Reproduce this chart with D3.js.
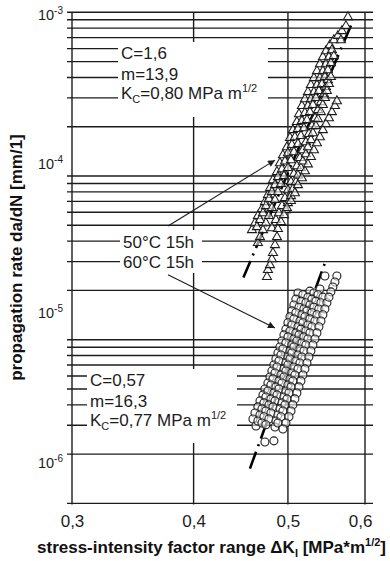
<!DOCTYPE html>
<html>
<head>
<meta charset="utf-8">
<script src="https://cdn.jsdelivr.net/npm/d3@7"></script>
<style>
  body { margin: 0; background: #fff; }
  svg { display: block; font-family: "Liberation Sans", Arial, sans-serif; }
</style>
</head>
<body>
<div class="canvas"></div>
<script>

// da/dN [mm/1] against dK_I [MPa m^1/2], one array per specimen streak
// 50°C 15h  (triangles)
var t50_1 = [[0.4592,4.68e-5],[0.4625,5.16e-5],[0.4657,5.70e-5],[0.4702,6.29e-5],[0.4735,6.94e-5],[0.4769,7.66e-5],[0.4792,8.45e-5],[0.4826,9.45e-5],[0.4872,1.06e-4],[0.4906,1.20e-4],[0.4941,1.34e-4],[0.4988,1.50e-4],[0.5024,1.71e-4],[0.5059,1.91e-4],[0.5107,2.14e-4],[0.5132,2.39e-4],[0.5168,2.68e-4],[0.5205,2.95e-4],[0.5242,3.26e-4],[0.5279,3.60e-4],[0.5317,3.97e-4],[0.5355,4.38e-4],[0.5393,4.83e-4],[0.5431,5.33e-4],[0.5470,5.80e-4],[0.5522,6.31e-4],[0.5574,6.77e-4],[0.5627,7.17e-4],[0.5681,7.69e-4],[0.5735,8.25e-4]]
var t50_2 = [[0.4646,4.88e-5],[0.4680,5.39e-5],[0.4713,5.94e-5],[0.4746,6.56e-5],[0.4780,7.24e-5],[0.4814,7.99e-5],[0.4849,8.81e-5],[0.4883,9.86e-5],[0.4930,1.10e-4],[0.4965,1.23e-4],[0.5000,1.38e-4],[0.5047,1.55e-4],[0.5083,1.73e-4],[0.5120,1.94e-4],[0.5168,2.17e-4],[0.5205,2.43e-4],[0.5242,2.68e-4],[0.5279,2.95e-4],[0.5317,3.26e-4],[0.5355,3.60e-4],[0.5393,3.97e-4],[0.5431,4.38e-4],[0.5470,4.83e-4],[0.5509,5.33e-4],[0.5548,5.88e-4]]
var t50_3 = [[0.4657,3.90e-5],[0.4680,4.24e-5],[0.4713,4.68e-5],[0.4746,5.16e-5],[0.4780,5.70e-5],[0.4814,6.38e-5],[0.4849,7.14e-5],[0.4883,7.99e-5],[0.4918,8.94e-5],[0.4953,1.00e-4],[0.5000,1.12e-4],[0.5036,1.25e-4],[0.5071,1.40e-4],[0.5120,1.57e-4],[0.5156,1.76e-4],[0.5193,1.96e-4],[0.5230,2.20e-4],[0.5267,2.46e-4],[0.5304,2.72e-4],[0.5342,3.00e-4],[0.5380,3.31e-4],[0.5419,3.65e-4],[0.5457,4.03e-4],[0.5496,4.44e-4],[0.5535,4.90e-4],[0.5574,5.41e-4],[0.5668,6.77e-4],[0.5762,9.36e-4]]
var t50_4 = [[0.4814,4.81e-5],[0.4860,5.39e-5],[0.4895,5.94e-5],[0.4930,6.56e-5],[0.4965,7.34e-5],[0.5000,8.21e-5],[0.5036,9.19e-5],[0.5071,1.03e-4],[0.5107,1.15e-4],[0.5144,1.29e-4],[0.5180,1.44e-4],[0.5217,1.61e-4],[0.5254,1.81e-4],[0.5292,2.02e-4],[0.5330,2.26e-4],[0.5368,2.53e-4],[0.5406,2.83e-4],[0.5444,3.17e-4],[0.5470,3.50e-4],[0.5496,3.86e-4]]
var t50_5 = [[0.4976,6.20e-5],[0.5000,6.84e-5],[0.5036,7.55e-5],[0.5059,8.33e-5],[0.5095,9.19e-5],[0.5120,1.01e-4],[0.5156,1.12e-4],[0.5180,1.23e-4],[0.5217,1.36e-4],[0.5242,1.50e-4],[0.5279,1.66e-4],[0.5304,1.83e-4],[0.5342,2.02e-4],[0.5368,2.23e-4],[0.5406,2.46e-4],[0.5431,2.72e-4],[0.5457,3.00e-4],[0.5483,3.31e-4],[0.5509,3.65e-4],[0.5535,4.03e-4]]
var t50_6 = [[0.4758,2.42e-5],[0.4769,2.67e-5],[0.4792,2.86e-5],[0.4814,3.11e-5],[0.4826,3.39e-5],[0.4849,3.79e-5],[0.4872,4.24e-5],[0.4883,4.75e-5],[0.4918,5.24e-5],[0.4953,5.78e-5],[0.4988,6.38e-5],[0.5036,7.04e-5],[0.5083,7.87e-5],[0.5120,8.81e-5],[0.5168,9.72e-5],[0.5205,1.07e-4],[0.5242,1.18e-4],[0.5279,1.31e-4],[0.5317,1.44e-4],[0.5355,1.59e-4],[0.5393,1.73e-4],[0.5431,1.91e-4],[0.5470,2.08e-4],[0.5509,2.26e-4],[0.5548,2.46e-4],[0.5588,2.68e-4],[0.5614,2.87e-4]]

// 60°C 15h  (circles)
var c60_1 = [[0.5120,1.93e-5],[0.5095,1.77e-5],[0.5071,1.63e-5],[0.5047,1.50e-5],[0.5024,1.38e-5],[0.5000,1.27e-5],[0.4976,1.16e-5],[0.4953,1.07e-5],[0.4930,9.82e-6],[0.4906,9.03e-6],[0.4883,8.30e-6],[0.4860,7.63e-6],[0.4837,7.01e-6],[0.4814,6.44e-6],[0.4792,5.92e-6],[0.4769,5.44e-6],[0.4735,5.00e-6],[0.4713,4.60e-6],[0.4680,4.23e-6],[0.4657,3.89e-6],[0.4625,3.57e-6],[0.4603,3.28e-6],[0.4636,2.97e-6]]
var c60_2 = [[0.5180,1.88e-5],[0.5156,1.72e-5],[0.5132,1.58e-5],[0.5095,1.46e-5],[0.5071,1.34e-5],[0.5047,1.23e-5],[0.5024,1.13e-5],[0.5000,1.04e-5],[0.4976,9.55e-6],[0.4941,8.78e-6],[0.4918,8.07e-6],[0.4895,7.41e-6],[0.4872,6.81e-6],[0.4849,6.26e-6],[0.4826,5.76e-6],[0.4803,5.29e-6],[0.4769,4.86e-6],[0.4746,4.47e-6],[0.4724,4.11e-6],[0.4702,3.78e-6],[0.4680,3.47e-6],[0.4657,3.19e-6]]
var c60_3 = [[0.5267,1.98e-5],[0.5242,1.82e-5],[0.5217,1.68e-5],[0.5193,1.54e-5],[0.5168,1.42e-5],[0.5144,1.30e-5],[0.5120,1.20e-5],[0.5095,1.10e-5],[0.5071,1.01e-5],[0.5047,9.28e-6],[0.5024,8.53e-6],[0.5000,7.84e-6],[0.4976,7.21e-6],[0.4953,6.63e-6],[0.4918,6.09e-6],[0.4895,5.60e-6],[0.4860,5.15e-6],[0.4837,4.73e-6],[0.4803,4.35e-6],[0.4780,4.00e-6],[0.4746,3.67e-6],[0.4724,3.38e-6],[0.4702,3.10e-6]]
var c60_4 = [[0.5317,1.93e-5],[0.5292,1.77e-5],[0.5267,1.63e-5],[0.5230,1.50e-5],[0.5205,1.38e-5],[0.5180,1.27e-5],[0.5156,1.16e-5],[0.5132,1.07e-5],[0.5107,9.82e-6],[0.5071,9.03e-6],[0.5047,8.30e-6],[0.5024,7.63e-6],[0.5000,7.01e-6],[0.4976,6.44e-6],[0.4953,5.92e-6],[0.4930,5.44e-6],[0.4895,5.00e-6],[0.4872,4.60e-6],[0.4849,4.23e-6],[0.4826,3.89e-6],[0.4803,3.57e-6],[0.4780,3.28e-6],[0.4746,3.02e-6]]
var c60_5 = [[0.5393,2.04e-5],[0.5368,1.88e-5],[0.5342,1.72e-5],[0.5317,1.58e-5],[0.5292,1.46e-5],[0.5267,1.34e-5],[0.5242,1.23e-5],[0.5217,1.13e-5],[0.5193,1.04e-5],[0.5168,9.55e-6],[0.5144,8.78e-6],[0.5120,8.07e-6],[0.5095,7.41e-6],[0.5071,6.81e-6],[0.5047,6.26e-6],[0.5024,5.76e-6],[0.5000,5.29e-6],[0.4976,4.86e-6],[0.4953,4.47e-6],[0.4930,4.11e-6],[0.4906,3.78e-6],[0.4883,3.47e-6],[0.4860,3.19e-6],[0.4849,2.93e-6]]
var c60_6 = [[0.5431,1.82e-5],[0.5406,1.68e-5],[0.5380,1.54e-5],[0.5355,1.42e-5],[0.5330,1.30e-5],[0.5292,1.20e-5],[0.5267,1.10e-5],[0.5242,1.01e-5],[0.5217,9.28e-6],[0.5193,8.53e-6],[0.5168,7.84e-6],[0.5144,7.21e-6],[0.5120,6.63e-6],[0.5083,6.09e-6],[0.5059,5.60e-6],[0.5036,5.15e-6],[0.5012,4.73e-6],[0.4988,4.35e-6],[0.4965,4.00e-6],[0.4941,3.67e-6],[0.4918,3.38e-6],[0.4883,3.10e-6]]
var c60_7 = [[0.5483,1.68e-5],[0.5457,1.54e-5],[0.5431,1.42e-5],[0.5406,1.30e-5],[0.5380,1.20e-5],[0.5355,1.10e-5],[0.5330,1.01e-5],[0.5304,9.28e-6],[0.5279,8.53e-6],[0.5254,7.84e-6],[0.5230,7.21e-6],[0.5205,6.63e-6],[0.5180,6.09e-6],[0.5156,5.60e-6],[0.5132,5.15e-6],[0.5107,4.73e-6],[0.5083,4.35e-6],[0.5059,4.00e-6],[0.5036,3.67e-6],[0.5012,3.38e-6],[0.4976,3.10e-6],[0.4941,2.85e-6]]
var c60_8 = [[0.5614,2.45e-5],[0.5588,2.25e-5],[0.5561,2.10e-5],[0.5535,1.96e-5],[0.5509,1.82e-5],[0.5457,2.45e-5],[0.4735,2.37e-6],[0.4837,2.41e-6]]

// fitted Paris lines (end points), da/dN = C * dK^m
var fit50 = [[0.450, 2.40e-5], [0.583, 8.85e-4]]
var fit60 = [[0.457, 1.63e-6], [0.546, 2.97e-5]]

var xTicks = [0.3, 0.4, 0.5, 0.6]
var decades = [1e-3, 1e-4, 1e-5, 1e-6]
var decadeExp = ["-3", "-4", "-5", "-6"]

// arrows from the labels into the two clouds
var arrowFrom = [[0.3765, 4.95e-5], [0.3765, 2.49e-5]]
var arrowTo = [[0.4849, 1.25e-4], [0.4849, 1.18e-5]]


var width = 390, height = 561

var x = d3.scaleLog().domain([0.3, 0.6]).range([72, 365])
var y = d3.scaleLog().domain([1e-6, 1e-3]).range([503.4, 12.3])
// decade labels in the original sit a little off the grid lines
var yLab = d3.scaleLog().domain([1e-6, 1e-3]).range([462.5, 15])

var ink = "#1c1c1c"

var svg = d3.select(".canvas").append("svg")
    .attr("width", width)
    .attr("height", height)

svg.append("defs").append("marker")
    .attr("id", "arr")
    .attr("viewBox", "0 0 10 10")
    .attr("refX", 10).attr("refY", 5)
    .attr("markerUnits", "userSpaceOnUse")
    .attr("markerWidth", 11).attr("markerHeight", 7)
    .attr("orient", "auto")
  .append("path")
    .attr("d", "M0,0L10,5L0,10z")
    .attr("fill", ink)

// grid
var grid = svg.append("g").attr("stroke", ink).attr("stroke-width", 1.4)
grid.selectAll(".h").data(y.ticks()).join("line")
    .attr("class", "h")
    .attr("x1", 67).attr("x2", 373)
    .attr("y1", d => y(d)).attr("y2", d => y(d))
grid.selectAll(".v").data(xTicks).join("line")
    .attr("class", "v")
    .attr("x1", d => x(d)).attr("x2", d => x(d))
    .attr("y1", y(1e-3)).attr("y2", y(1e-6) + 1)

// fit lines under the markers
var line = d3.line().x(d => x(d[0])).y(d => y(d[1]))
svg.selectAll(".fit").data([fit50, fit60]).join("path")
    .attr("class", "fit")
    .attr("d", line)
    .attr("fill", "none")
    .attr("stroke", "#000")
    .attr("stroke-width", 2.6)
    .attr("stroke-dasharray", "18,6,2,6")

var tri = d3.symbol().type(d3.symbolTriangle).size(36)
svg.append("g")
    .attr("fill", "#fff").attr("fill-opacity", 0.55)
    .attr("stroke", ink).attr("stroke-width", 1.05)
  .selectAll("path")
  .data([].concat(t50_1, t50_2, t50_3, t50_4, t50_5, t50_6))
  .join("path")
    .attr("d", tri)
    .attr("transform", d => "translate(" + x(d[0]) + "," + y(d[1]) + ")")

svg.append("g")
    .attr("fill", "#fff").attr("fill-opacity", 0.55)
    .attr("stroke", ink).attr("stroke-width", 1.1)
  .selectAll("circle")
  .data([].concat(c60_1, c60_2, c60_3, c60_4, c60_5, c60_6, c60_7, c60_8))
  .join("circle")
    .attr("cx", d => x(d[0]))
    .attr("cy", d => y(d[1]))
    .attr("r", 4)

// text boxes (white, they cut the grid lines)
function coeffBox(bx, by, bw, bh, C, m, Kc) {
  var g = svg.append("g").attr("font-size", 17).attr("fill", ink)
  g.append("rect").attr("x", bx).attr("y", by).attr("width", bw).attr("height", bh).attr("fill", "#fff")
  var tx = bx + 3, ty = by + 17
  g.append("text").attr("x", tx).attr("y", ty).text("C=" + C)
  g.append("text").attr("x", tx).attr("y", ty + 20.5).text("m=" + m)
  var k = g.append("text").attr("x", tx).attr("y", ty + 40)
  k.append("tspan").text("K")
  k.append("tspan").attr("font-size", 11).attr("dy", 4).text("C")
  k.append("tspan").attr("dy", -4).text("=" + Kc + " MPa m")
  k.append("tspan").attr("font-size", 11).attr("dy", -7).text("1/2")
}
coeffBox(118, 42, 150, 75, "1,6", "13,9", "0,80")
coeffBox(87, 369, 150, 74, "0,57", "16,3", "0,77")

var lab = svg.append("g").attr("font-size", 17).attr("fill", ink)
lab.append("rect").attr("x", 120).attr("y", 230).attr("width", 82).attr("height", 43).attr("fill", "#fff")
lab.append("text").attr("x", 123).attr("y", 247.5).text("50°C 15h")
lab.append("text").attr("x", 123).attr("y", 267.5).text("60°C 15h")

svg.append("g").selectAll("line").data(arrowFrom).join("line")
    .attr("x1", d => x(d[0])).attr("y1", d => y(d[1]))
    .attr("x2", (d, i) => x(arrowTo[i][0])).attr("y2", (d, i) => y(arrowTo[i][1]))
    .attr("stroke", ink).attr("stroke-width", 1.1)
    .attr("marker-end", "url(#arr)")

// x axis labels
var xAxis = svg.append("g")
    .attr("transform", "translate(0," + y(1e-6) + ")")
    .call(d3.axisBottom(x).tickValues(xTicks).tickSize(0).tickPadding(12)
      .tickFormat(d => String(d).replace(".", ",")))
xAxis.select(".domain").remove()
xAxis.selectAll("text")
    .attr("font-family", "Liberation Sans, Arial, sans-serif")
    .attr("font-size", 17).attr("fill", ink)
xAxis.selectAll(".tick:last-of-type text").attr("text-anchor", "end").attr("dx", 7)

// y decade labels
var yt = svg.append("g").attr("fill", ink)
  .selectAll("text").data(decades).join("text")
    .attr("x", 63)
    .attr("y", d => yLab(d) + 5)
    .attr("text-anchor", "end")
    .attr("font-size", 14.5)
yt.append("tspan").text("10")
yt.append("tspan").attr("font-size", 10).attr("dy", -6).text((d, i) => decadeExp[i])

// titles
var xt = svg.append("text")
    .attr("x", 211.5).attr("y", 553)
    .attr("text-anchor", "middle")
    .attr("font-size", 17).attr("font-weight", "bold").attr("fill", "#111")
xt.append("tspan").text("stress-intensity factor range \u0394K")
xt.append("tspan").attr("font-size", 11).attr("dy", 4).text("I")
xt.append("tspan").attr("dy", -4).text(" [MPa*m")
xt.append("tspan").attr("font-size", 11).attr("dy", -7).text("1/2")
xt.append("tspan").attr("dy", 7).text("]")

svg.append("text")
    .attr("transform", "translate(22,257.5) rotate(-90)")
    .attr("text-anchor", "middle")
    .attr("font-size", 17).attr("font-weight", "bold").attr("fill", "#111")
    .text("propagation rate da/dN [mm/1]")

</script>
</body>
</html>
